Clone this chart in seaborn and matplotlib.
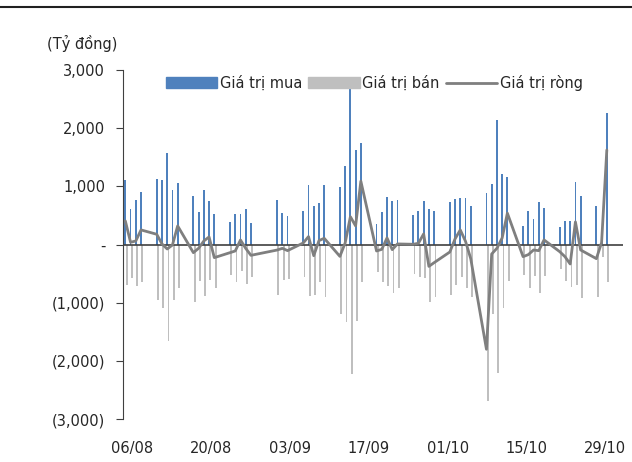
import matplotlib
matplotlib.use("Agg")
import matplotlib.pyplot as plt
import numpy as np
import pandas as pd
import seaborn as sns
from matplotlib.lines import Line2D
from matplotlib.patches import Patch

# trading day offsets (calendar days from the first session)
days = [0, 1, 2, 3, 6, 7, 8, 9, 10, 13, 14, 15, 16, 17, 20, 21, 22, 23, 24,
        29, 30, 31, 34, 35, 36, 37, 38, 41, 42, 43, 44, 45,
        48, 49, 50, 51, 52, 55, 56, 57, 58, 59, 62, 63, 64, 65, 66,
        69, 70, 71, 72, 73, 76, 77, 78, 79, 80, 83, 84, 85, 86, 87, 90, 91, 92]
buy = [1104, 615, 770, 903, 1133, 1110, 1581, 943, 1064, 845, 558, 943, 742, 529,
       385, 529, 529, 615, 368, 770, 546, 489, 581, 1018, 673, 719, 1018,
       983, 1351, 2700, 1633, 1742, 357, 569, 822, 748, 765, 512, 575, 759,
       621, 587, 736, 788, 805, 805, 667, 891, 1035, 2139, 1213, 1162,
       316, 581, 443, 730, 627, 299, 414, 403, 1081, 834, 656, 253, 2266]
sell = [-696, -575, -707, -650, -955, -1098, -1656, -949, -742, -983, -621, -880,
        -610, -753, -523, -638, -449, -679, -552, -863, -610, -592, -552, -880,
        -863, -650, -909, -1185, -1323, -2220, -1311, -650, -466, -650, -707,
        -834, -753, -506, -552, -575, -995, -897, -863, -690, -552, -748, -909,
        -2691, -1196, -2202, -1098, -621, -523, -753, -535, -834, -546, -420,
        -621, -736, -690, -926, -897, -219, -638]
net = [408, 40, 63, 253, 178, 12, -75, -6, 322, -138, -63, 63, 132, -224,
       -138, -109, 80, -64, -184, -93, -64, -103, 29, 138, -190, 69, 109,
       -202, 28, 480, 322, 1092, -109, -81, 115, -86, 12, 6, 23, 184, -374,
       -310, -127, 98, 253, 57, -242, -1800, -161, -63, 115, 541, -207,
       -172, -92, -104, 81, -121, -207, -333, 391, -92, -241, 34, 1628]

xtick_pos = [1.3, 16.4, 31.5, 46.5, 61.6, 76.7, 91.6]
xtick_labels = ["06/08", "20/08", "03/09", "17/09", "01/10", "15/10", "29/10"]
ytick_pos = [-3000, -2000, -1000, 0, 1000, 2000, 3000]
ytick_labels = ["(3,000)", "(2,000)", "(1,000)", "-", "1,000", "2,000", "3,000"]

BLUE = "#4F81BD"
GREY = "#BFBFBF"
LINE = "#7F7F7F"

sns.set_style("white")
plt.rcParams["font.family"] = ["DejaVu Sans"]

df = pd.DataFrame({"day": days, "buy": buy, "sell": sell, "net": net})

fig = plt.figure(figsize=(6.32, 4.62), dpi=100)
ax = fig.add_axes([0.195, 0.093, 0.79, 0.755])

ax.bar(df["day"], df["buy"], width=0.35, color=BLUE, linewidth=0)
ax.bar(df["day"] + 0.25, df["sell"], width=0.35, color=GREY, linewidth=0)
ax.axhline(0, color="#404040", linewidth=1.2, zorder=1)
sns.lineplot(data=df, x="day", y="net", color=LINE, linewidth=2, ax=ax, zorder=3)

ax.set_xlim(-0.4, 95)
ax.set_ylim(-3000, 3000)
ax.set_yticks(ytick_pos)
ax.set_yticklabels(ytick_labels, fontsize=10.5)
ax.set_xticks(xtick_pos)
ax.set_xticklabels(xtick_labels, fontsize=10.5)
ax.tick_params(axis="x", length=0, pad=16)
ax.tick_params(axis="y", length=5, direction="out", left=True, color="#404040", pad=8)
ax.set_xlabel("")
ax.set_ylabel("")
for side in ["top", "right", "bottom"]:
    ax.spines[side].set_visible(False)
ax.spines["left"].set_color("#404040")

handles = [Patch(color=BLUE), Patch(color=GREY), Line2D([0], [0], color=LINE, linewidth=2)]
ax.legend(handles, ["Giá trị mua", "Giá trị bán", "Giá trị ròng"], loc="upper left",
          bbox_to_anchor=(0.06, 1.025), ncol=3, frameon=False, fontsize=10.5,
          handlelength=3.5, handleheight=0.7, columnspacing=0.4, handletextpad=0.2)

fig.text(0.075, 0.895, "(Tỷ đồng)", fontsize=10.5)
fig.add_artist(Line2D([0, 1], [0.985, 0.985], color="#202020", linewidth=1.5))

fig.savefig("out.png", dpi=100)
